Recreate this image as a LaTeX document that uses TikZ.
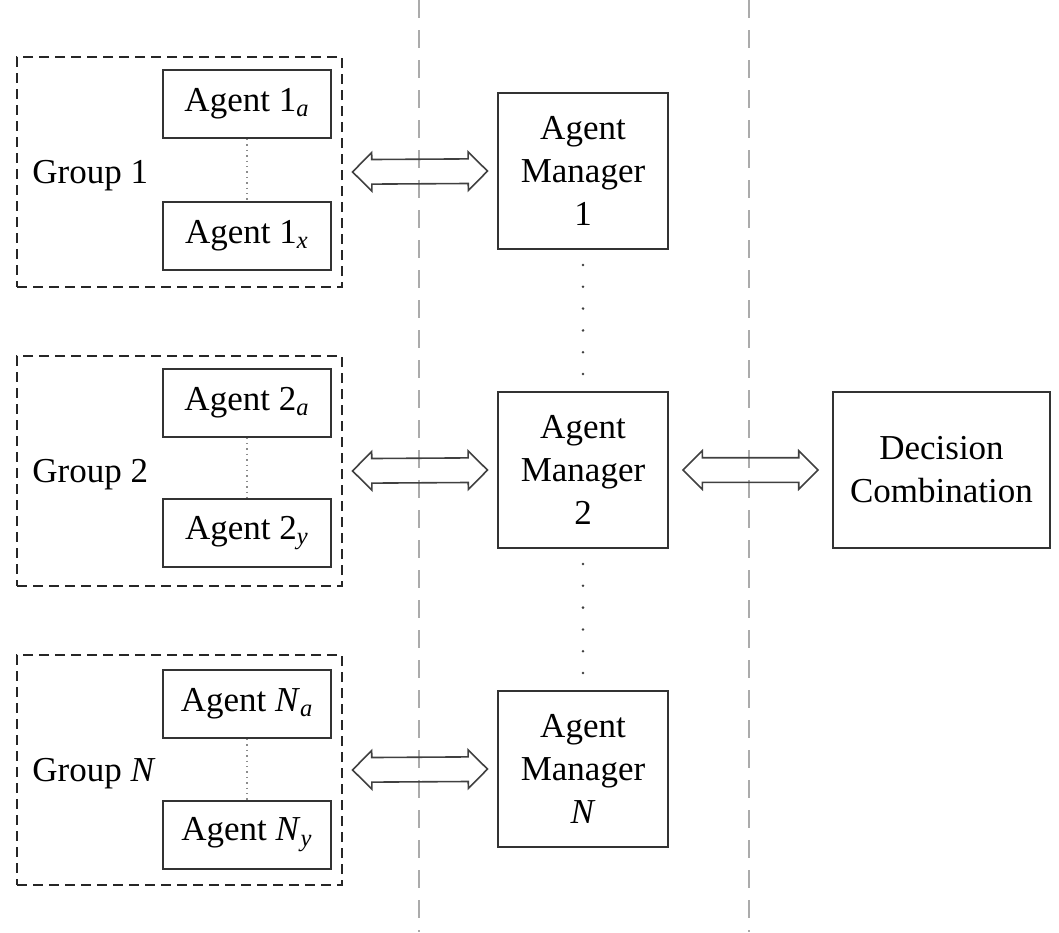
\documentclass[tikz,border=0pt]{standalone}
\usepackage{fontspec}
\setmainfont{Liberation Serif}
\usetikzlibrary{shapes.arrows,positioning}
\tikzstyle{group} = [rectangle, draw = black!85, line width = 1pt, dash pattern = on 5pt off 3pt, minimum width = 162.5pt, minimum height = 115pt, inner sep = 0pt]
\tikzstyle{agent} = [rectangle, draw = black!80, line width = 1pt, fill = white, minimum width = 84pt, minimum height = 34pt, inner sep = 0pt]
\tikzstyle{manager} = [rectangle, draw = black!80, line width = 1pt, minimum width = 85pt, minimum height = 78pt, text centered, align = center, inner sep = 0pt]
\tikzstyle{bigarrow} = [double arrow, draw = black!75, line width = 0.8pt, minimum height = 67.5pt, inner xsep = 0pt, inner ysep = 5.75pt, double arrow head extend = 3.5pt, sloped]
\tikzstyle{lane} = [draw = black!33, line width = 1pt, dash pattern = on 9pt off 6pt]
\tikzstyle{link} = [draw = black!45, line width = 0.7pt, dotted]
\tikzstyle{mdots} = [draw = black!75, line width = 1.4pt, line cap = round, dash pattern = on 0pt off 10.9pt, dash phase = 3.4pt]
\tikzstyle{grouplabel} = [anchor = west, inner sep = 0pt, yshift = -2pt]
\newcommand{\sub}[1]{\textsubscript{\textit{#1}}}

\begin{document}
\begin{tikzpicture}[x = 0.5pt, y = -0.5pt, node distance = 149.5pt, font = \fontsize{17.5}{21.5}\selectfont]
\useasboundingbox (0,0) rectangle (1059,932);

% lanes
\coordinate (la1) at (419,0);
\coordinate (lb1) at (419,932);
\coordinate (la2) at (749,0);
\coordinate (lb2) at (749,932);
\draw [lane] (la1) -- (lb1);
\draw [lane] (la2) -- (lb2);

% groups
\node(g1) [group] at (179.5,172) {};
\node(g2) [group, below of = g1] {};
\node(gN) [group, below of = g2] {};

\node(gl1) [grouplabel, right = 8pt of g1.west] {Group 1};
\node(gl2) [grouplabel, right = 8pt of g2.west] {Group 2};
\node(glN) [grouplabel, right = 8pt of gN.west] {Group \textit{N}};

% agents
\node(a1a) [agent] at (247,104) {Agent 1\sub{a}};
\node(a1x) [agent] at (247,235.5) {Agent 1\sub{x}};
\node(a2a) [agent] at (247,402.5) {Agent 2\sub{a}};
\node(a2y) [agent] at (247,533) {Agent 2\sub{y}};
\node(aNa) [agent] at (247,704) {Agent \textit{N}\sub{a}};
\node(aNy) [agent] at (247,834.5) {Agent \textit{N}\sub{y}};

\draw [link] (a1a) -- (a1x);
\draw [link] (a2a) -- (a2y);
\draw [link] (aNa) -- (aNy);

% managers
\node(m1) [manager] at (583,171) {Agent\\Manager\\1};
\node(m2) [manager, below of = m1] {Agent\\Manager\\2};
\node(mN) [manager, below of = m2] {Agent\\Manager\\\textit{N}};
\node(dc) [manager, minimum width = 108.5pt] at (941.5,470) {Decision\\Combination};

\draw [mdots] (m1) -- (m2);
\draw [mdots] (m2) -- (mN);

% links
\path (g1.east) -- (m1.west) node [bigarrow, midway] {};
\path (g2.east) -- (m2.west) node [bigarrow, midway] {};
\path (gN.east) -- (mN.west) node [bigarrow, midway] {};
\path (m2.east) -- (dc.west) node [bigarrow, midway] {};

\end{tikzpicture}
\end{document}
